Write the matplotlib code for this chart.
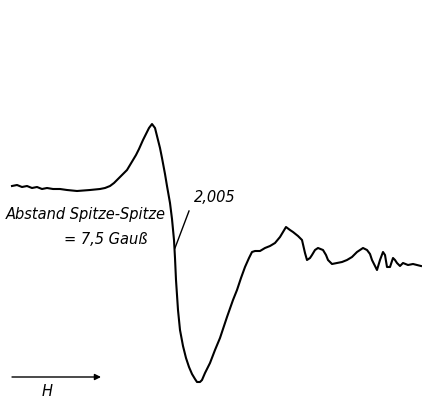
import matplotlib
matplotlib.use("Agg")
import matplotlib.pyplot as plt

# Traced ESR derivative spectrum (horizontal: field, vertical: signal; drawing units)
field = [12, 17, 22, 27, 32, 37, 42, 47, 53, 60, 67, 77, 90, 100, 105, 110, 114, 118,
         122, 127, 130, 133, 136, 139, 143, 146, 149, 152, 155, 157, 160, 162, 165,
         167, 170, 172, 174, 175, 176, 178, 180, 183, 186, 189, 192, 195, 197, 200,
         202, 205, 210, 215, 220, 227, 233, 237, 241, 245, 249, 252, 255, 260, 265,
         270, 275, 280, 286, 290, 293, 298, 302, 305, 307, 310, 312, 315, 318, 323,
         326, 328, 332, 337, 342, 347, 352, 357, 363, 367, 370, 372, 375, 377, 380,
         383, 385, 387, 390, 393, 395, 397, 400, 403, 408, 413, 417, 421]
signal = [186, 185, 187, 186, 188, 187, 189, 188, 189, 189, 190, 191, 190, 189, 188,
          186, 183, 179, 175, 170, 165, 160, 155, 149, 140, 134, 128, 124, 128, 136,
          148, 158, 174, 186, 203, 219, 240, 258, 280, 310, 330, 346, 358, 367, 374,
          379, 382, 382, 380, 373, 363, 350, 338, 317, 300, 290, 278, 267, 258, 252,
          251, 251, 248, 246, 243, 237, 227, 230, 232, 236, 240, 253, 260, 258, 255,
          250, 248, 250, 255, 260, 264, 263, 262, 260, 257, 252, 248, 250, 254, 260,
          266, 270, 260, 252, 255, 267, 267, 258, 260, 263, 266, 263, 265, 264, 265,
          266]

peak_label = "Abstand Spitze-Spitze"
width_label = "= 7,5 Gauß"
g_label = "2,005"
field_label = "H"

fig = plt.figure(figsize=(4.22, 3.98), dpi=100)
ax = fig.add_axes([0, 0, 1, 1])
ax.set_xlim(0, 422)
ax.set_ylim(398, 0)
ax.axis("off")

ax.plot(field, signal, color="black", lw=1.5, solid_joinstyle="round")

txt = dict(color="black", style="italic", fontsize=10.5, family="DejaVu Sans")
ax.text(6, 215, peak_label, ha="left", va="center", **txt)
ax.text(64, 240, width_label, ha="left", va="center", **txt)
ax.text(194, 197, g_label, ha="left", va="center", **txt)

# pointer to the g-value position
ax.plot([175, 189], [248, 211], color="black", lw=1.0)

# field direction arrow
ax.annotate("", xy=(101, 377), xytext=(12, 377),
            arrowprops=dict(arrowstyle="-|>", color="black", lw=1.0,
                            mutation_scale=9, shrinkA=0, shrinkB=0))
ax.text(47, 391, field_label, ha="center", va="center", **txt)

fig.savefig("out.png", dpi=100)
